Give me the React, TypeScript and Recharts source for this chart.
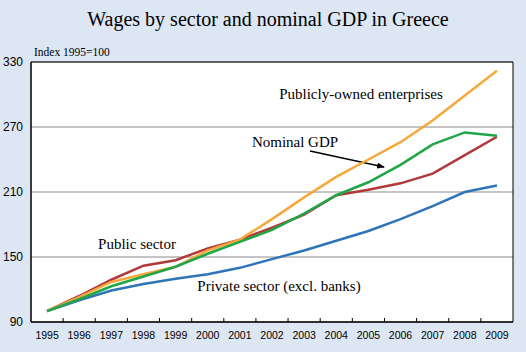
import React from 'react';
import { LineChart, Line, XAxis, YAxis, CartesianGrid, ReferenceArea } from 'recharts';

const years = [1995, 1996, 1997, 1998, 1999, 2000, 2001, 2002, 2003, 2004, 2005, 2006, 2007, 2008, 2009];
const publicSector = [100, 114, 129, 142, 147, 158, 166, 177, 189, 207, 212, 218, 227, 244, 261];
const publiclyOwned = [100, 113, 127, 134, 141, 156, 166, 185, 205, 224, 240, 256, 276, 299, 322];
const nominalGDP = [100, 111, 123, 132, 141, 153, 164, 175, 190, 207, 219, 235, 254, 265, 262];
const privateSector = [100, 110, 119, 125, 130, 134, 140, 148, 156, 165, 174, 185, 197, 210, 216];
const yTicks = [90, 150, 210, 270, 330];

const data = years.map((year, i) => ({
  year,
  publicSector: publicSector[i],
  publiclyOwned: publiclyOwned[i],
  nominalGDP: nominalGDP[i],
  privateSector: privateSector[i],
}));

const xTicks: number[] = years.flatMap((y, i) => (i < years.length - 1 ? [y, y + 0.5] : [y]));

const SERIF = '"Liberation Serif", "Times New Roman", serif';
const SANS = '"Liberation Sans", Arial, sans-serif';

const XTick = (props: any) => {
  const { x, y, payload } = props;
  const v = payload.value;
  if (Number.isInteger(v)) {
    return (
      <text x={x} y={y + 17} textAnchor="middle" fontSize={10.5} fontFamily={SANS} fill="#000">
        {v}
      </text>
    );
  }
  return <line x1={x} x2={x} y1={y} y2={y - 4} stroke="#000" strokeWidth={1} />;
};

export default function App() {
  return (
    <div style={{ width: 526, height: 352, background: '#dde6f3' }}>
      <style>{`body{margin:0;background:#dde6f3;}`}</style>
      <LineChart
        width={526}
        height={352}
        data={data}
        margin={{ top: 62, right: 13, bottom: 0, left: 0 }}
      >
        <defs>
          <marker id="arrowHead" markerWidth="8" markerHeight="6" refX="7" refY="3" orient="auto" markerUnits="userSpaceOnUse">
            <path d="M0,0 L8,3 L0,6 Z" fill="#000" />
          </marker>
        </defs>
        <CartesianGrid horizontal vertical={false} fill="#ffffff" stroke="#8a8a8a" strokeWidth={1} />
        <XAxis
          dataKey="year"
          type="number"
          domain={[1994.5, 2009.5]}
          ticks={xTicks}
          interval={0}
          tick={<XTick />}
          tickLine={false}
          tickSize={0}
          tickMargin={0}
          height={30}
          axisLine={{ stroke: '#000', strokeWidth: 1 }}
          allowDataOverflow
        />
        <YAxis
          type="number"
          domain={[90, 330]}
          ticks={yTicks}
          interval={0}
          width={31}
          tickLine={false}
          tickSize={0}
          tickMargin={8}
          axisLine={{ stroke: '#000', strokeWidth: 1 }}
          tick={{ fontSize: 12, fontFamily: SANS, fill: '#000' }}
          allowDataOverflow
        />
        <ReferenceArea x1={1994.5} x2={2009.5} y1={90} y2={330} fill="none" stroke="#000" strokeWidth={1} fillOpacity={0} />
        <Line type="linear" dataKey="privateSector" stroke="#2e74b9" strokeWidth={2.5} dot={false} isAnimationActive={false} />
        <Line type="linear" dataKey="publicSector" stroke="#b2383b" strokeWidth={2.5} dot={false} isAnimationActive={false} />
        <Line type="linear" dataKey="publiclyOwned" stroke="#f6a83a" strokeWidth={2.5} dot={false} isAnimationActive={false} />
        <Line type="linear" dataKey="nominalGDP" stroke="#20a547" strokeWidth={2.5} dot={false} isAnimationActive={false} />
        <g>
          <text x={268} y={26} textAnchor="middle" fontSize={20} fontFamily={SERIF} fill="#000">
            Wages by sector and nominal GDP in Greece
          </text>
          <text x={34} y={56} fontSize={11.5} fontFamily={SERIF} fill="#000">
            Index 1995=100
          </text>
          <text x={361} y={99} textAnchor="middle" fontSize={15} fontFamily={SERIF} fill="#000">
            Publicly-owned enterprises
          </text>
          <text x={295} y={147} textAnchor="middle" fontSize={15} fontFamily={SERIF} fill="#000">
            Nominal GDP
          </text>
          <line x1={310} y1={151} x2={384} y2={167} stroke="#000" strokeWidth={1.3} markerEnd="url(#arrowHead)" />
          <text x={137} y={249} textAnchor="middle" fontSize={15} fontFamily={SERIF} fill="#000">
            Public sector
          </text>
          <text x={279} y={291} textAnchor="middle" fontSize={15} fontFamily={SERIF} fill="#000">
            Private sector (excl. banks)
          </text>
        </g>
      </LineChart>
    </div>
  );
}
